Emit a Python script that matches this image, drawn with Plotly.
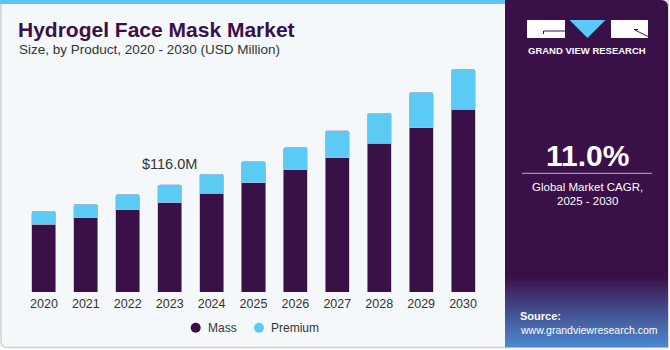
import plotly.graph_objects as go

# ---------------- data ----------------
years = ["2020", "2021", "2022", "2023", "2024", "2025", "2026", "2027", "2028", "2029", "2030"]
mass = [73.4, 80.5, 88.9, 96.8, 107.0, 118.5, 132.3, 145.6, 161.5, 178.1, 198.1]
premium = [14.4, 14.9, 17.0, 19.2, 20.9, 23.2, 24.6, 29.3, 32.5, 38.4, 43.3]
series_names = ["Mass", "Premium"]
label_year = "2023"
label_text = "$116.0M"
title = "Hydrogel Face Mask Market"
subtitle = "Size, by Product, 2020 - 2030 (USD Million)"
cagr_value = "11.0%"
cagr_text = ["Global Market CAGR,", "2025 - 2030"]
brand = "GRAND VIEW RESEARCH"
source_lines = ["Source:", "www.grandviewresearch.com"]

# ---------------- style / layout ----------------
W, H = 670, 350
L, R, T, B = 23, 186, 60, 58
PW, PH = W - L - R, H - T - B
YMAX = 251.5

C_MASS = "#3A1048"
C_PREM = "#5BCBF5"
C_BG = "#F4F8FB"
C_PANEL = "#3A1048"
FONT = "Liberation Sans"


def px(x):
    return (x - L) / PW


def py(y):
    return (H - B - y) / PH


fig = go.Figure()
for name, vals, col in [(series_names[0], mass, C_MASS), (series_names[1], premium, C_PREM)]:
    fig.add_trace(go.Bar(
        x=years, y=vals, name=name, marker_color=col,
        marker_line=dict(color="rgba(190,180,210,0.8)", width=0.8),
        showlegend=False,
    ))

idx = years.index(label_year)
fig.add_annotation(
    x=idx, y=mass[idx] + premium[idx], xref="x", yref="y", text=label_text, showarrow=False,
    yanchor="middle", yshift=21, font=dict(family=FONT, size=14.5, color="#333333"),
)

shapes = []
# card border
shapes.append(dict(type="path", xref="paper", yref="paper",
                   path=f"M {px(1)},{py(0)} L {px(1)},{py(341)} Q {px(1)},{py(347.5)} {px(7)},{py(347.5)} "
                        f"L {px(668)},{py(347.5)} L {px(668)},{py(0)}",
                   line=dict(color="#CFCFD4", width=1.5), fillcolor=C_BG, layer="below"))
# top stripe
shapes.append(dict(type="rect", xref="paper", yref="paper", x0=px(0), x1=px(506), y0=py(4), y1=py(0),
                   line=dict(width=0), fillcolor="#5CC6EE", layer="below"))
# right panel with rounded top-right corner
r = 7
shapes.append(dict(type="path", xref="paper", yref="paper",
                   path=f"M {px(505)},{py(347)} L {px(505)},{py(0)} L {px(668 - r)},{py(0)} "
                        f"Q {px(668)},{py(0)} {px(668)},{py(r)} L {px(668)},{py(347)} Z",
                   line=dict(width=0), fillcolor=C_PANEL, layer="below"))


# gradient at bottom of panel
def lerp(c1, c2, t):
    a = [int(c1[i:i + 2], 16) for i in (1, 3, 5)]
    b = [int(c2[i:i + 2], 16) for i in (1, 3, 5)]
    return "#" + "".join(f"{round(a[k] + (b[k] - a[k]) * t):02X}" for k in range(3))


g0, g1, n = 278, 347, 23
for i in range(n):
    y0 = g0 + (g1 - g0) * i / n
    y1 = g0 + (g1 - g0) * (i + 1) / n
    t = (i + 0.5) / n
    shapes.append(dict(type="rect", xref="paper", yref="paper", x0=px(505), x1=px(668),
                       y0=py(y1 + 0.3), y1=py(y0), line=dict(width=0),
                       fillcolor=lerp(C_PANEL, "#4C88CE", t ** 0.9), layer="below"))

# logo
shapes.append(dict(type="rect", xref="paper", yref="paper", x0=px(527), x1=px(565), y0=py(38), y1=py(20),
                   line=dict(width=0), fillcolor="white"))
shapes.append(dict(type="rect", xref="paper", yref="paper", x0=px(611), x1=px(648), y0=py(38), y1=py(20),
                   line=dict(width=0), fillcolor="white"))
shapes.append(dict(type="path", xref="paper", yref="paper",
                   path=f"M {px(569.5)},{py(20)} L {px(605.5)},{py(20)} L {px(587.5)},{py(38)} Z",
                   line=dict(width=0), fillcolor="#5BC8F5"))
shapes.append(dict(type="line", xref="paper", yref="paper", x0=px(543.5), x1=px(565), y0=py(31), y1=py(31),
                   line=dict(color=C_PANEL, width=1)))
shapes.append(dict(type="line", xref="paper", yref="paper", x0=px(543.5), x1=px(543.5), y0=py(31), y1=py(34),
                   line=dict(color=C_PANEL, width=1)))
shapes.append(dict(type="line", xref="paper", yref="paper", x0=px(634), x1=px(648), y0=py(29.5), y1=py(36.5),
                   line=dict(color=C_PANEL, width=1)))
shapes.append(dict(type="line", xref="paper", yref="paper", x0=px(634), x1=px(638), y0=py(29.5), y1=py(29.5),
                   line=dict(color=C_PANEL, width=1)))
# separator line under CAGR
shapes.append(dict(type="line", xref="paper", yref="paper", x0=px(522), x1=px(652), y0=py(173.3), y1=py(173.3),
                   line=dict(color="#B9AFC4", width=1)))

# legend (drawn manually: circle markers + labels)
legend_items = [(series_names[0], C_MASS, 195.7, 206), (series_names[1], C_PREM, 259, 269)]
for name, col, mx, tx in legend_items:
    shapes.append(dict(type="circle", xref="paper", yref="paper",
                       x0=px(mx - 5), x1=px(mx + 5), y0=py(327.7 + 5), y1=py(327.7 - 5),
                       line=dict(width=0), fillcolor=col))

fig.update_layout(shapes=shapes)

ann = [
    dict(text=f"<b>{title}</b>", x=px(16), y=py(29.5), xanchor="left", yanchor="middle",
         font=dict(family=FONT, size=21, color="#3A1048")),
    dict(text=subtitle, x=px(16.5), y=py(49.5), xanchor="left", yanchor="middle",
         font=dict(family=FONT, size=13.5, color="#333333")),
    dict(text=f"<b>{brand}</b>", x=px(587), y=py(50.5), xanchor="center", yanchor="middle",
         font=dict(family=FONT, size=9.5, color="white")),
    dict(text=f"<b>{cagr_value}</b>", x=px(587), y=py(155), xanchor="center", yanchor="middle",
         font=dict(family=FONT, size=30, color="white")),
    dict(text=cagr_text[0], x=px(587.5), y=py(186.5), xanchor="center", yanchor="middle",
         font=dict(family=FONT, size=11.5, color="white")),
    dict(text=cagr_text[1], x=px(587.5), y=py(201), xanchor="center", yanchor="middle",
         font=dict(family=FONT, size=11.5, color="white")),
    dict(text=f"<b>{source_lines[0]}</b>", x=px(517.5), y=py(315.5), xanchor="left", yanchor="middle",
         font=dict(family=FONT, size=11, color="white")),
    dict(text=source_lines[1], x=px(517.5), y=py(329.5), xanchor="left", yanchor="middle",
         font=dict(family=FONT, size=10.5, color="white")),
]
for name, col, mx, tx in legend_items:
    ann.append(dict(text=name, x=px(tx), y=py(327.7), xanchor="left", yanchor="middle",
                    font=dict(family=FONT, size=12, color="#333333")))
for a in ann:
    fig.add_annotation(xref="paper", yref="paper", showarrow=False, **a)

fig.update_layout(
    width=W, height=H,
    margin=dict(l=L, r=R, t=T, b=B, pad=0),
    paper_bgcolor="white", plot_bgcolor="rgba(0,0,0,0)",
    barmode="stack", bargap=0.427, barcornerradius=2,
    font=dict(family=FONT, color="#333333"),
    xaxis=dict(type="category", range=[-0.5, 10.5], showgrid=False, showline=False, zeroline=False,
               ticks="", tickfont=dict(family=FONT, size=12.5, color="#333333"), ticklabelstandoff=2),
    yaxis=dict(range=[0, YMAX], visible=False, showgrid=False, zeroline=False),
    showlegend=False,
)

fig.write_html("out.html")
